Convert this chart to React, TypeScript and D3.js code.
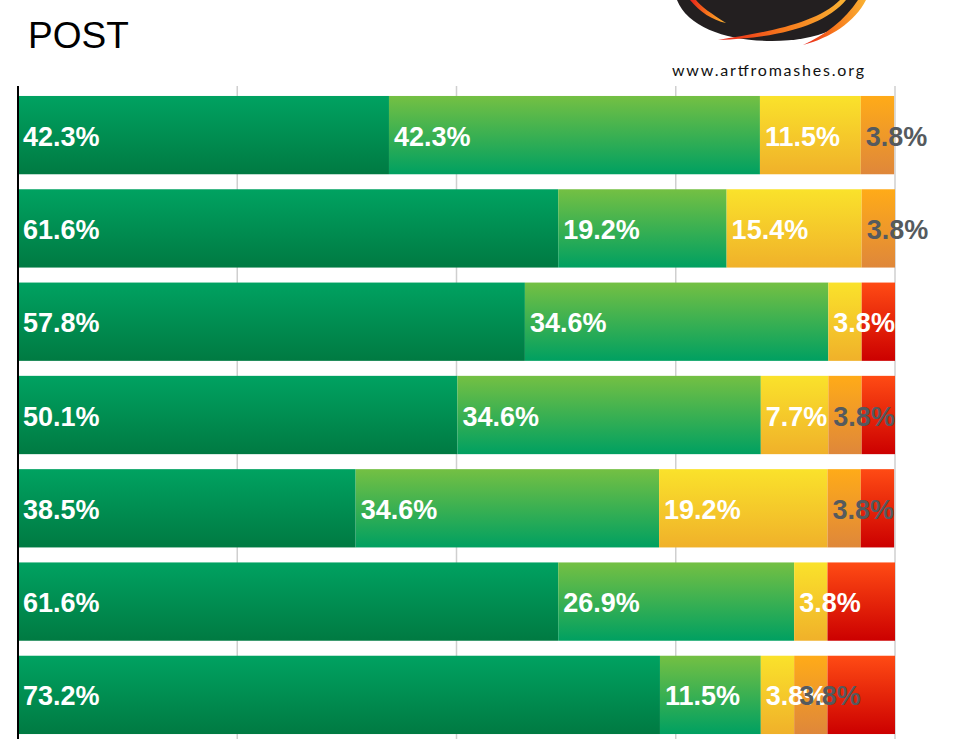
import React from "react";
import * as d3 from "d3";

const rows = ["r1", "r2", "r3", "r4", "r5", "r6", "r7"];
const s1 = [42.3, 61.6, 57.8, 50.1, 38.5, 61.6, 73.2];
const s2 = [42.3, 19.2, 34.6, 34.6, 34.6, 26.9, 11.5];
const s3 = [11.5, 15.4, 3.8, 7.7, 19.2, 3.8, 3.8];
const s4 = [3.8, 3.8, 0, 3.8, 3.8, 0, 3.8];
const s5 = [0, 0, 3.8, 3.8, 3.8, 7.7, 7.7];
const seriesValues = [s1, s2, s3, s4, s5];
const gridTicks = [0, 25, 50, 75, 100];
const title = "POST";
const logoText = "www.artfromashes.org";

const gradients = [
  ["#00a261", "#007a42"],
  ["#74c043", "#00a061"],
  ["#fae22b", "#f0b12a"],
  ["#ffab18", "#df873a"],
  ["#ff4b14", "#cc0000"],
];
const labelColors = ["#ffffff", "#ffffff", "#ffffff", "#555a5e", null];

export default function App() {
  const W = 957, H = 739;
  const x = d3.scaleLinear().domain([0, 100]).range([18, 895]);
  const y = d3.scaleBand().domain(rows).range([88.5, 741.5]).paddingInner(0.1607).paddingOuter(0.08);

  const segs: any[] = [];
  rows.forEach((r, i) => {
    let acc = 0;
    seriesValues.forEach((vals, si) => {
      const v = vals[i];
      if (v > 0) segs.push({ r, si, v, x0: acc, x1: acc + v });
      acc += v;
    });
  });

  return (
    <svg width={W} height={H} style={{ position: "absolute", left: 0, top: 0, display: "block" }}>
      <defs>
        {gradients.map((g, i) => (
          <linearGradient key={i} id={`g${i}`} x1="0" y1="0" x2="0" y2="1">
            <stop offset="0" stopColor={g[0]} />
            <stop offset="1" stopColor={g[1]} />
          </linearGradient>
        ))}
        <linearGradient id="sw" x1="0" y1="0" x2="1" y2="0">
          <stop offset="0" stopColor="#e8201a" />
          <stop offset="0.5" stopColor="#f7781c" />
          <stop offset="1" stopColor="#f9b233" />
        </linearGradient>
      </defs>
      <rect width={W} height={H} fill="#fff" />
      {/* logo */}
      <g>
        <path d="M677,0 C688,28 728,41 772,41 C818,41 852,26 864,0 Z" fill="#231f20" />
        <path d="M690,0 C700,12 712,20 726,23 C712,14 700,6 696,0 Z" fill="url(#sw)" />
        <path d="M718,40 C760,33 815,25 840,0 L846,0 C825,25 780,38 718,40 Z" fill="url(#sw)" />
        <path d="M803,45 C825,35 845,20 858,0 L866,0 C855,22 830,38 803,45 Z" fill="url(#sw)" />
        <text x={672} y={76} fontFamily="Lato, 'Open Sans', sans-serif" fontSize={16} textLength={192} fill="#111">{logoText}</text>
      </g>
      <text x={28} y={48} fontFamily="'Liberation Sans', Arial, sans-serif" fontSize={37} fill="#000">{title}</text>
      {gridTicks.slice(1).map((t) => (
        <line key={t} x1={x(t)} x2={x(t)} y1={86} y2={H} stroke="#cfcfcf" strokeWidth={1.5} />
      ))}
      {segs.map((s, k) => (
        <rect key={k} x={x(s.x0)} y={y(s.r)!} width={x(s.x1) - x(s.x0)} height={y.bandwidth()} fill={`url(#g${s.si})`} />
      ))}
      <line x1={18} x2={18} y1={86} y2={H} stroke="#000" strokeWidth={2} />
      {segs.filter((s) => labelColors[s.si]).map((s, k) => (
        <text key={k} x={x(s.x0) + 5} y={y(s.r)! + y.bandwidth() / 2 + 10.5}
          fontFamily="'Liberation Sans', Arial, sans-serif" fontWeight="bold" fontSize={27}
          fill={labelColors[s.si]!}>{`${s.v.toFixed(1)}%`}</text>
      ))}
    </svg>
  );
}
